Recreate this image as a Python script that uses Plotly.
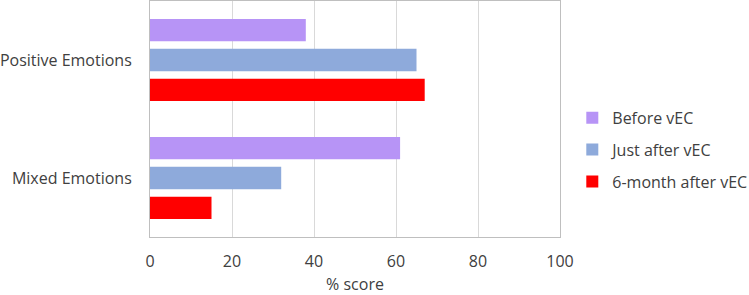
import plotly.graph_objects as go

categories = ["Positive Emotions", "Mixed Emotions"]
series_names = ["Before vEC", "Just after vEC", "6-month after vEC"]
before_vec = [38, 61]
just_after_vec = [65, 32]
six_month_after_vec = [67, 15]
x_ticks = [0, 20, 40, 60, 80, 100]

colors = ["#B794F6", "#8EAADB", "#FF0000"]
font_family = "Open Sans, Noto Sans, sans-serif"

fig = go.Figure()
for name, vals, col in zip(series_names, [before_vec, just_after_vec, six_month_after_vec], colors):
    fig.add_trace(go.Bar(
        y=categories, x=vals, name=name, orientation="h", legendgroup=name,
        marker=dict(color=col, line=dict(width=0)),
    ))

fig.update_layout(
    width=749, height=295,
    margin=dict(l=150, r=189, t=1, b=58, autoexpand=False),
    paper_bgcolor="white", plot_bgcolor="white",
    barmode="group", bargap=0.24, bargroupgap=0.25,
    font=dict(family=font_family, size=16, color="#404040"),
    legend=dict(
        x=1.03, xanchor="left", y=0.369, yanchor="middle",
        traceorder="grouped", font=dict(size=16, color="#404040"),
        itemwidth=30, tracegroupgap=8, borderwidth=0,
    ),
    showlegend=True,
)
fig.update_xaxes(
    range=[0, 100], tickvals=x_ticks, showgrid=True, gridcolor="#D9D9D9", gridwidth=1,
    showline=True, linecolor="#BFBFBF", linewidth=1, mirror=True,
    zeroline=False, ticks="", ticklabelstandoff=10, automargin=False,
    title=dict(text="% score", font=dict(size=16, color="#404040")),
)
fig.update_yaxes(
    categoryorder="array", categoryarray=categories, autorange="reversed",
    showline=True, linecolor="#BFBFBF", linewidth=1, mirror=True,
    showgrid=False, ticks="", ticklabelstandoff=14, automargin=False,
)

fig.write_html(
    "out.html",
    config={"displayModeBar": False},
    post_script="document.body.style.margin='0px';document.body.style.padding='0px';",
)
